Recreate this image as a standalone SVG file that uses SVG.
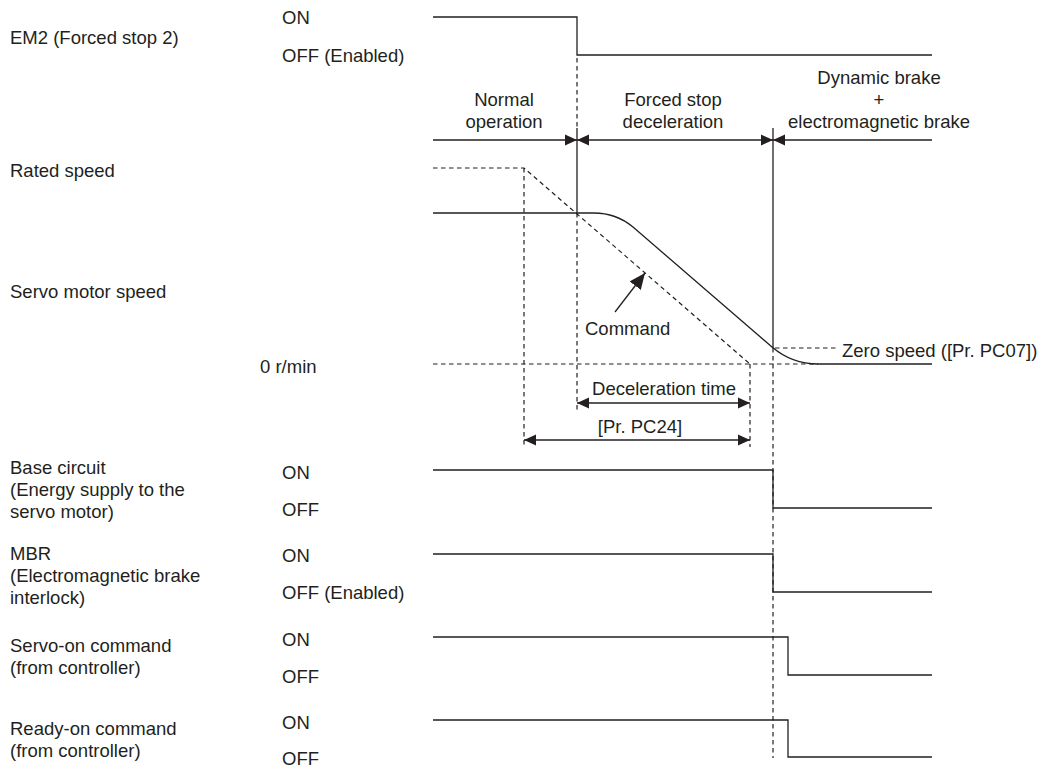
<svg xmlns="http://www.w3.org/2000/svg" width="1042" height="769" viewBox="0 0 1042 769">
  <style>
    text { font-family: "Liberation Sans", Arial, sans-serif; font-size: 18.5px; fill: #231f20; }
    .c { text-anchor: middle; }
    .ln { fill: none; stroke: #231f20; stroke-width: 1.3; }
    .ds { fill: none; stroke: #231f20; stroke-width: 1.2; stroke-dasharray: 4.5 3.5; }
  </style>
  <defs>
    <marker id="ah" viewBox="0 0 12 12" refX="12" refY="6" markerWidth="12" markerHeight="12" markerUnits="userSpaceOnUse" orient="auto-start-reverse">
      <path d="M0,0.5 L12,6 L0,11.5 Z" fill="#231f20"/>
    </marker>
    <marker id="ahb" viewBox="0 0 16 14" refX="16" refY="7" markerWidth="16" markerHeight="14" markerUnits="userSpaceOnUse" orient="auto">
      <path d="M0,0 L16,7 L0,14 Z" fill="#231f20"/>
    </marker>
  </defs>
  <rect width="1042" height="769" fill="#ffffff"/>

  <g id="labels">
    <text x="10" y="43.5">EM2 (Forced stop 2)</text>
    <text x="282" y="23.5">ON</text>
    <text x="282" y="61.5">OFF (Enabled)</text>
    <text x="10" y="176.5">Rated speed</text>
    <text x="10" y="297.5">Servo motor speed</text>
    <text x="260" y="372.5">0 r/min</text>
    <text x="10" y="473.5">Base circuit</text>
    <text x="10" y="495.5">(Energy supply to the</text>
    <text x="10" y="517.5">servo motor)</text>
    <text x="282" y="478.5">ON</text>
    <text x="282" y="515.5">OFF</text>
    <text x="10" y="559.5">MBR</text>
    <text x="10" y="582">(Electromagnetic brake</text>
    <text x="10" y="603.5">interlock)</text>
    <text x="282" y="561.5">ON</text>
    <text x="282" y="599">OFF (Enabled)</text>
    <text x="10" y="651.5">Servo-on command</text>
    <text x="10" y="673.5">(from controller)</text>
    <text x="282" y="645.5">ON</text>
    <text x="282" y="682.5">OFF</text>
    <text x="10" y="734.5">Ready-on command</text>
    <text x="10" y="757">(from controller)</text>
    <text x="282" y="728.5">ON</text>
    <text x="282" y="765">OFF</text>
  </g>

  <g id="phases">
    <text class="c" x="504" y="106">Normal</text>
    <text class="c" x="504" y="128">operation</text>
    <text class="c" x="673" y="106">Forced stop</text>
    <text class="c" x="673" y="128">deceleration</text>
    <text class="c" x="879" y="84">Dynamic brake</text>
    <text class="c" x="879" y="106">+</text>
    <text class="c" x="879" y="128">electromagnetic brake</text>
  </g>

  <g id="speed-labels">
    <text x="585" y="335">Command</text>
    <text x="842" y="357">Zero speed ([Pr. PC07])</text>
    <text class="c" x="664" y="395">Deceleration time</text>
    <text class="c" x="640" y="433">[Pr. PC24]</text>
  </g>

  <g id="connectors">
    <!-- EM2 signal -->
    <polyline class="ln" points="433,17 577,17 577,55 932,55"/>
    <!-- time boundary 1 -->
    <line class="ds" x1="577" y1="58" x2="577" y2="128"/>
    <line class="ln" x1="577" y1="128" x2="577" y2="213"/>
    <line class="ds" x1="577" y1="213" x2="577" y2="410"/>
    <!-- time boundary 2 -->
    <line class="ln" x1="773" y1="128" x2="773" y2="348"/>
    <line class="ds" x1="773" y1="348" x2="773" y2="758"/>
    <!-- phase arrows -->
    <line class="ln" x1="433" y1="140" x2="577" y2="140" marker-end="url(#ah)"/>
    <line class="ln" x1="577" y1="140" x2="773" y2="140" marker-start="url(#ah)" marker-end="url(#ah)"/>
    <line class="ln" x1="773" y1="140" x2="932" y2="140" marker-start="url(#ah)"/>

    <!-- command (dashed) -->
    <polyline class="ds" points="433,168 524,168 750,364"/>
    <line class="ds" x1="524" y1="168" x2="524" y2="447"/>
    <line class="ds" x1="750" y1="364" x2="750" y2="447"/>
    <!-- zero speed line -->
    <line class="ds" x1="433" y1="364" x2="818" y2="364"/>
    <line class="ds" x1="775" y1="348" x2="837" y2="348"/>
    <!-- actual speed -->
    <path class="ln" d="M433,213 L594,213 Q616,213 633,227 L772,347 Q792,364 818,364 L932,364"/>
    <!-- command pointer -->
    <line class="ln" x1="615" y1="312" x2="645" y2="273" marker-end="url(#ahb)"/>
    <!-- time arrows -->
    <line class="ln" x1="577" y1="403" x2="750" y2="403" marker-start="url(#ah)" marker-end="url(#ah)"/>
    <line class="ln" x1="524" y1="440" x2="750" y2="440" marker-start="url(#ah)" marker-end="url(#ah)"/>

    <!-- Base circuit -->
    <polyline class="ln" points="433,470 773,470 773,508 932,508"/>
    <!-- MBR -->
    <polyline class="ln" points="433,554 773,554 773,592 932,592"/>
    <!-- Servo-on -->
    <polyline class="ln" points="433,637 788,637 788,675 932,675"/>
    <!-- Ready-on -->
    <polyline class="ln" points="433,720 788,720 788,757 932,757"/>
  </g>
</svg>
